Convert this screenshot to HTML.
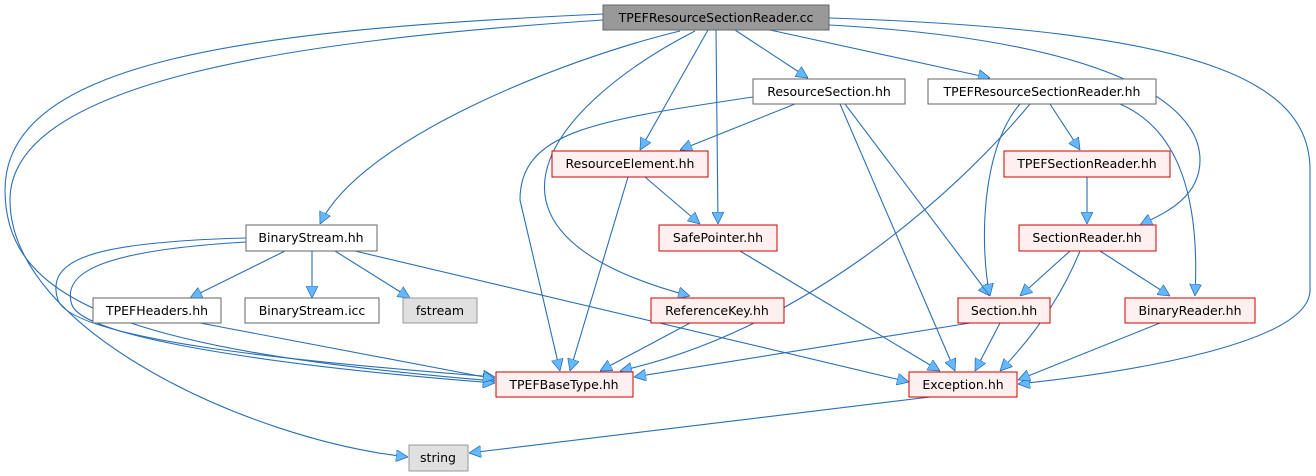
<!DOCTYPE html>
<html><head><meta charset="utf-8"><style>
html,body{margin:0;padding:0;background:#fff;}
svg{display:block;}
text{font-family:"DejaVu Sans","Liberation Sans",sans-serif;font-size:12.5px;fill:#000;}
</style></head><body>
<svg width="1316" height="476" viewBox="0 0 1316 476" xmlns="http://www.w3.org/2000/svg">
<defs>
<marker id="a" viewBox="0 0 10 10" refX="10" refY="5" markerWidth="12" markerHeight="12" markerUnits="userSpaceOnUse" orient="auto">
<path d="M0,0 L10,5 L0,10 z" fill="#63b8ff" stroke="#1f65a8" stroke-width="0.6"/>
</marker>
</defs>
<g fill="none" stroke="#2a6fb5" stroke-width="1.1" marker-end="url(#a)">
<path d="M735,30 L808,78"/>
<path d="M770,30 L990,78"/>
<path d="M708,30 L640,150"/>
<path d="M716,30 L718,224"/>
<path d="M680,31 C560,60 360,140 320,224"/>
<path d="M695,31 C560,100 440,230 690,296"/>
<path d="M603,14 C250,30 5,60 5,190 C5,300 120,350 495,381"/>
<path d="M603,20 C300,40 10,80 10,200 C10,330 250,440 408,457"/>
<path d="M829,18 C1200,30 1310,80 1310,170 L1310,290 C1310,340 1150,370 1018,384"/>
<path d="M829,25 C1100,40 1200,100 1200,160 C1200,200 1160,215 1140,225"/>
<path d="M795,104 L680,150"/>
<path d="M753,97 C600,120 520,130 520,200 L560,371"/>
<path d="M840,104 L955,371"/>
<path d="M845,104 L990,296"/>
<path d="M1050,104 L1080,150"/>
<path d="M1120,104 C1180,130 1200,200 1195,296"/>
<path d="M1030,104 C950,200 800,330 620,371"/>
<path d="M1020,104 C980,150 980,250 990,296"/>
<path d="M645,177 L700,224"/>
<path d="M628,177 L570,371"/>
<path d="M1087,176 L1087,224"/>
<path d="M285,251 L190,298"/>
<path d="M312,251 L312,298"/>
<path d="M335,251 L410,298"/>
<path d="M355,251 L909,382"/>
<path d="M246,238 C90,242 45,260 58,300 C72,340 300,362 495,377"/>
<path d="M246,242 C110,250 60,270 72,305 C85,340 300,368 495,383"/>
<path d="M740,251 L940,371"/>
<path d="M1070,251 L1020,296"/>
<path d="M1100,251 L1170,296"/>
<path d="M1080,251 C1060,300 1030,340 1000,371"/>
<path d="M200,323 L495,379"/>
<path d="M690,323 L600,371"/>
<path d="M970,323 L634,377"/>
<path d="M1000,323 L975,371"/>
<path d="M1160,323 L1018,380"/>
<path d="M930,397 L469,453"/>
</g>
<g stroke-width="1">
<rect x="603" y="5" width="226" height="25" fill="#999" stroke="#666"/>
<rect x="753" y="79" width="152" height="25" fill="#fff" stroke="#666"/>
<rect x="928" y="79" width="228" height="25" fill="#fff" stroke="#666"/>
<rect x="552" y="151" width="156" height="26" fill="#fff0f0" stroke="#c00"/>
<rect x="1004" y="151" width="166" height="26" fill="#fff0f0" stroke="#c00"/>
<rect x="246" y="225" width="131" height="26" fill="#fff" stroke="#666"/>
<rect x="659" y="225" width="118" height="26" fill="#fff0f0" stroke="#c00"/>
<rect x="1019" y="225" width="137" height="26" fill="#fff0f0" stroke="#c00"/>
<rect x="93" y="298" width="128" height="25" fill="#fff" stroke="#666"/>
<rect x="245" y="298" width="134" height="25" fill="#fff" stroke="#666"/>
<rect x="403" y="298" width="74" height="25" fill="#e0e0e0" stroke="#999"/>
<rect x="651" y="298" width="133" height="25" fill="#fff0f0" stroke="#c00"/>
<rect x="958" y="298" width="92" height="25" fill="#fff0f0" stroke="#c00"/>
<rect x="1125" y="298" width="130" height="25" fill="#fff0f0" stroke="#c00"/>
<rect x="496" y="372" width="137" height="25" fill="#fff0f0" stroke="#c00"/>
<rect x="909" y="372" width="108" height="25" fill="#fff0f0" stroke="#c00"/>
<rect x="409" y="445" width="59" height="26" fill="#e0e0e0" stroke="#999"/>
</g>
<g text-anchor="middle">
<text x="716" y="22">TPEFResourceSectionReader.cc</text>
<text x="829" y="96">ResourceSection.hh</text>
<text x="1042" y="96">TPEFResourceSectionReader.hh</text>
<text x="630" y="168">ResourceElement.hh</text>
<text x="1087" y="168">TPEFSectionReader.hh</text>
<text x="311" y="242">BinaryStream.hh</text>
<text x="718" y="242">SafePointer.hh</text>
<text x="1087" y="242">SectionReader.hh</text>
<text x="157" y="315">TPEFHeaders.hh</text>
<text x="312" y="315">BinaryStream.icc</text>
<text x="440" y="315">fstream</text>
<text x="717" y="315">ReferenceKey.hh</text>
<text x="1004" y="315">Section.hh</text>
<text x="1190" y="315">BinaryReader.hh</text>
<text x="564" y="389">TPEFBaseType.hh</text>
<text x="963" y="389">Exception.hh</text>
<text x="438" y="462">string</text>
</g>
</svg>
</body></html>
